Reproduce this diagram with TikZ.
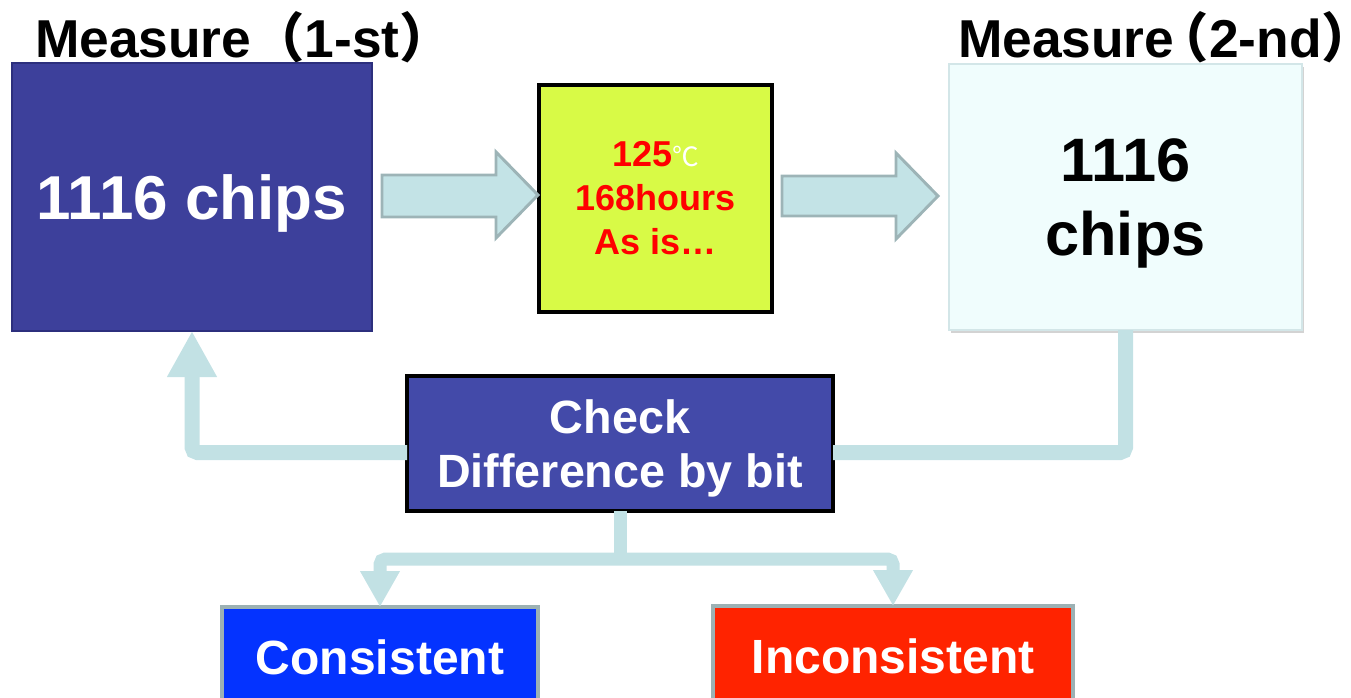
\documentclass[tikz,border=0pt]{standalone}
\usepackage{fontspec}
\setmainfont{Liberation Sans}
\newfontfamily\cjk{Noto Sans CJK SC}
\usetikzlibrary{arrows.meta,calc,shadows}
\definecolor{mone}{HTML}{3D409B}
\definecolor{moneb}{HTML}{2C2F7D}
\definecolor{yel}{HTML}{D8FA46}
\definecolor{mtwo}{HTML}{F0FDFD}
\definecolor{mtwob}{HTML}{D3E6E8}
\definecolor{chk}{HTML}{434AA9}
\definecolor{arrfill}{HTML}{C3E3E6}
\definecolor{arrbord}{HTML}{9DB4B7}
\definecolor{conncol}{HTML}{C2E1E4}
\definecolor{consf}{HTML}{0433FF}
\definecolor{incf}{HTML}{FF2300}
\definecolor{botb}{HTML}{9CB1B4}
\begin{document}
\begin{tikzpicture}[x=0.75pt,y=-0.75pt,
  every node/.style={inner sep=0pt,outer sep=0pt},
  boxone/.style={draw=moneb,line width=2pt,fill=mone,minimum width=270pt,minimum height=201pt,text=white,text depth=0pt,font=\bfseries\fontsize{46.5}{54}\selectfont},
  boxheat/.style={draw=black,line width=3pt,fill=yel,minimum width=174.75pt,minimum height=170.25pt,align=center,text=red,text depth=0pt,font=\bfseries\fontsize{27}{33}\selectfont},
  boxtwo/.style={draw=mtwob,line width=1pt,fill=mtwo,minimum width=264.75pt,minimum height=199.5pt,align=center,text depth=0pt,font=\bfseries\fontsize{46}{55}\selectfont,drop shadow={shadow xshift=1.5pt,shadow yshift=-2.5pt,opacity=0.35}},
  boxchk/.style={draw=black,line width=3pt,fill=chk,minimum width=319.5pt,minimum height=101.25pt,align=center,text=white,text depth=0pt,font=\bfseries\fontsize{35}{41}\selectfont},
  boxres/.style={draw=botb,line width=3pt,minimum height=75pt,text=white,font=\bfseries\fontsize{36}{40}\selectfont},
  blockarrow/.style={draw=arrbord,line width=2.2pt,fill=arrfill,line join=miter},
  title/.style={anchor=base west,font=\bfseries\fontsize{40}{44}\selectfont},
  fb/.style={draw=conncol,line width=11.25pt,rounded corners=4pt},
  fbtip/.style={-{Triangle[width=35pt,length=34.5pt]}},
  sp/.style={draw=conncol,line width=9.75pt,rounded corners=4pt},
  sptip/.style={-{Triangle[width=28pt,length=27pt]}}]
\useasboundingbox (0,0) rectangle (1351,697);
\clip (0,0) rectangle (1351,697);

% titles
\node[title] (t1) at (35,57) {Measure{\cjk\bfseries （}1-st{\cjk\bfseries ）\kern-0.45em}};
\node[title] (t2) at (958,57) {Measure{\cjk\bfseries\kern-0.35em（}2-nd{\cjk\bfseries ）\kern-0.45em}};

% main boxes
\node[boxone] (m1) at (192,197) {1116 chips};
\node[boxheat] (heat) at (655.5,198) {125{\cjk\mdseries\fontsize{20}{20}\selectfont\color{white}℃}\\168hours\\As is…};
\node[boxtwo] (m2) at (1125.5,197) {1116\\chips};
\node[boxchk] (chk) at (620,443.5) {Check\\Difference by bit};
\node[boxres,fill=consf,minimum width=237pt] (cons) at (380,657) {Consistent};
\node[boxres,fill=incf,minimum width=270pt] (inc) at (893,656) {Inconsistent};

% block arrows
\draw[blockarrow] (382,175) -- (496,175) -- (496,152) -- (538,195) -- (496,238) -- (496,217) -- (382,217) -- cycle;
\draw[blockarrow] (782,176) -- (896,176) -- (896,153) -- (938,196) -- (896,239) -- (896,216) -- (782,216) -- cycle;

% feedback connectors
\coordinate (fr) at ($(chk.east)+(0,9)$);
\coordinate (fl) at ($(chk.west)+(0,9)$);
\draw[fb] (m2.south) |- (fr);
\draw[fb,fbtip] (fl) -| (m1.south);

% split connectors
\coordinate (split) at ($(chk.south)+(0,48)$);
\draw[sp] (chk.south) -- (split);
\draw[sp,sptip] (split) -| (cons.north);
\draw[sp,sptip] (split) -| (inc.north);
\end{tikzpicture}
\end{document}
